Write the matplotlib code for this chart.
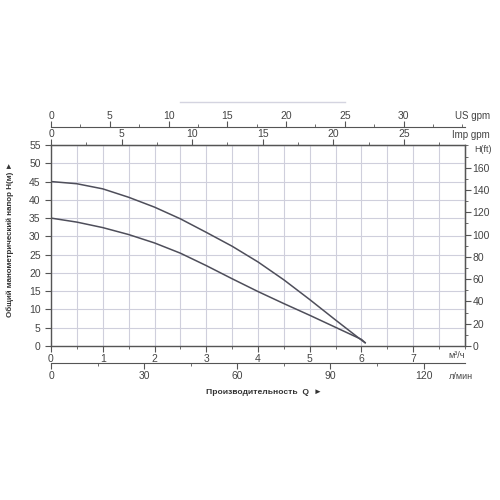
import matplotlib.pyplot as plt
from matplotlib.ticker import MultipleLocator
from matplotlib.lines import Line2D

plt.rcParams['font.family'] = ['Liberation Sans', 'DejaVu Sans']

# Pump curves, flow in m3/h, head in m
flow = [0, 0.5, 1, 1.5, 2, 2.5, 3, 3.5, 4, 4.5, 5, 5.5, 6, 6.07]
head_high = [45, 44.4, 43.0, 40.7, 38.0, 34.8, 31.1, 27.3, 23.0, 18.1, 12.7, 7.1, 1.6, 0.9]
head_low = [35, 33.9, 32.4, 30.5, 28.2, 25.4, 22.0, 18.4, 14.9, 11.6, 8.4, 5.1, 1.8, 0.9]

m3h_ticks = [0, 1, 2, 3, 4, 5, 6, 7]
lmin_ticks = [0, 30, 60, 90, 120]
imp_ticks = [0, 5, 10, 15, 20, 25]
us_ticks = [0, 5, 10, 15, 20, 25, 30]
ft_ticks = [0, 20, 40, 60, 80, 100, 120, 140, 160]

tc = '#444444'
line_c = '#4e4e5a'
grid_c = '#cfcfdc'
fs = 7.5

fig = plt.figure(figsize=(5, 5), dpi=100)
ax = fig.add_axes([0.102, 0.308, 0.828, 0.402])

ax.plot(flow, head_high, color=line_c, lw=1.1, solid_joinstyle='round')
ax.plot(flow, head_low, color=line_c, lw=1.1, solid_joinstyle='round')

ax.set_xlim(0, 8)
ax.set_ylim(0, 55)
ax.set_xticks(m3h_ticks)
ax.xaxis.set_minor_locator(MultipleLocator(0.5))
ax.set_yticks(range(0, 56, 5))
ax.grid(True, which='both', color=grid_c, lw=0.8)
ax.set_axisbelow(True)
for s in ax.spines.values():
    s.set_color('#555555')
    s.set_linewidth(1.0)
ax.tick_params(which='both', colors='#555555', labelcolor=tc, labelsize=fs,
               direction='out', top=False)
ax.tick_params(which='major', length=4)
ax.tick_params(which='minor', length=2.5)
ax.tick_params(axis='x', pad=1.5)

# flow / head conversions
to_lmin = (lambda q: q * 1000 / 60, lambda l: l * 60 / 1000)
to_imp = (lambda q: q * 3.6662, lambda g: g / 3.6662)
to_us = (lambda q: q * 4.4029, lambda g: g / 4.4029)
to_ft = (lambda h: h * 3.2808, lambda f: f / 3.2808)


def style_sec(a, minor, pad):
    a.tick_params(which='both', colors='#555555', labelcolor=tc, labelsize=fs,
                  direction='out')
    a.tick_params(which='major', length=4, pad=pad)
    a.tick_params(which='minor', length=2.5)
    a.xaxis.set_minor_locator(MultipleLocator(minor))
    for s in a.spines.values():
        s.set_color('#555555')


lm = ax.secondary_xaxis(-0.085, functions=to_lmin)
lm.set_xticks(lmin_ticks)
style_sec(lm, 15, 2)

imp = ax.secondary_xaxis('top', functions=to_imp)
imp.set_xticks(imp_ticks)
style_sec(imp, 2.5, 0.5)

us = ax.secondary_xaxis(1.09, functions=to_us)
us.set_xticks(us_ticks)
style_sec(us, 2.5, 0.5)

ft = ax.secondary_yaxis('right', functions=to_ft)
ft.set_yticks(ft_ticks)
ft.tick_params(which='both', colors='#555555', labelcolor=tc, labelsize=fs,
               direction='out')
ft.tick_params(which='major', length=4, pad=1.5)
ft.tick_params(which='minor', length=2.5)
ft.yaxis.set_minor_locator(MultipleLocator(10))

# unit labels
ax.text(1.0, -0.048, 'м³/ч', transform=ax.transAxes, ha='right', va='center',
        fontsize=6.5, color=tc)
ax.text(1.02, -0.15, 'л/мин', transform=ax.transAxes, ha='right', va='center',
        fontsize=6.5, color=tc)
ax.text(1.06, 1.05, 'Imp gpm', transform=ax.transAxes, ha='right', va='center',
        fontsize=7, color=tc)
ax.text(1.06, 1.145, 'US gpm', transform=ax.transAxes, ha='right', va='center',
        fontsize=7, color=tc)
ax.text(1.022, 0.98, 'H(ft)', transform=ax.transAxes, ha='left', va='center',
        fontsize=6.5, color=tc)

fig.text(0.02, 0.522, 'Общий манометрический напор H(м) ►', rotation=90,
         ha='center', va='center', fontsize=5.8, fontweight='bold', color='#333333')
fig.text(0.528, 0.216, 'Производительность  Q  ►', ha='center', va='center',
         fontsize=6.1, fontweight='bold', color='#333333')

fig.add_artist(Line2D([0.36, 0.69], [0.796, 0.796], color='#d4d4e0', lw=1))

fig.savefig('out.png', dpi=100, facecolor='white')
